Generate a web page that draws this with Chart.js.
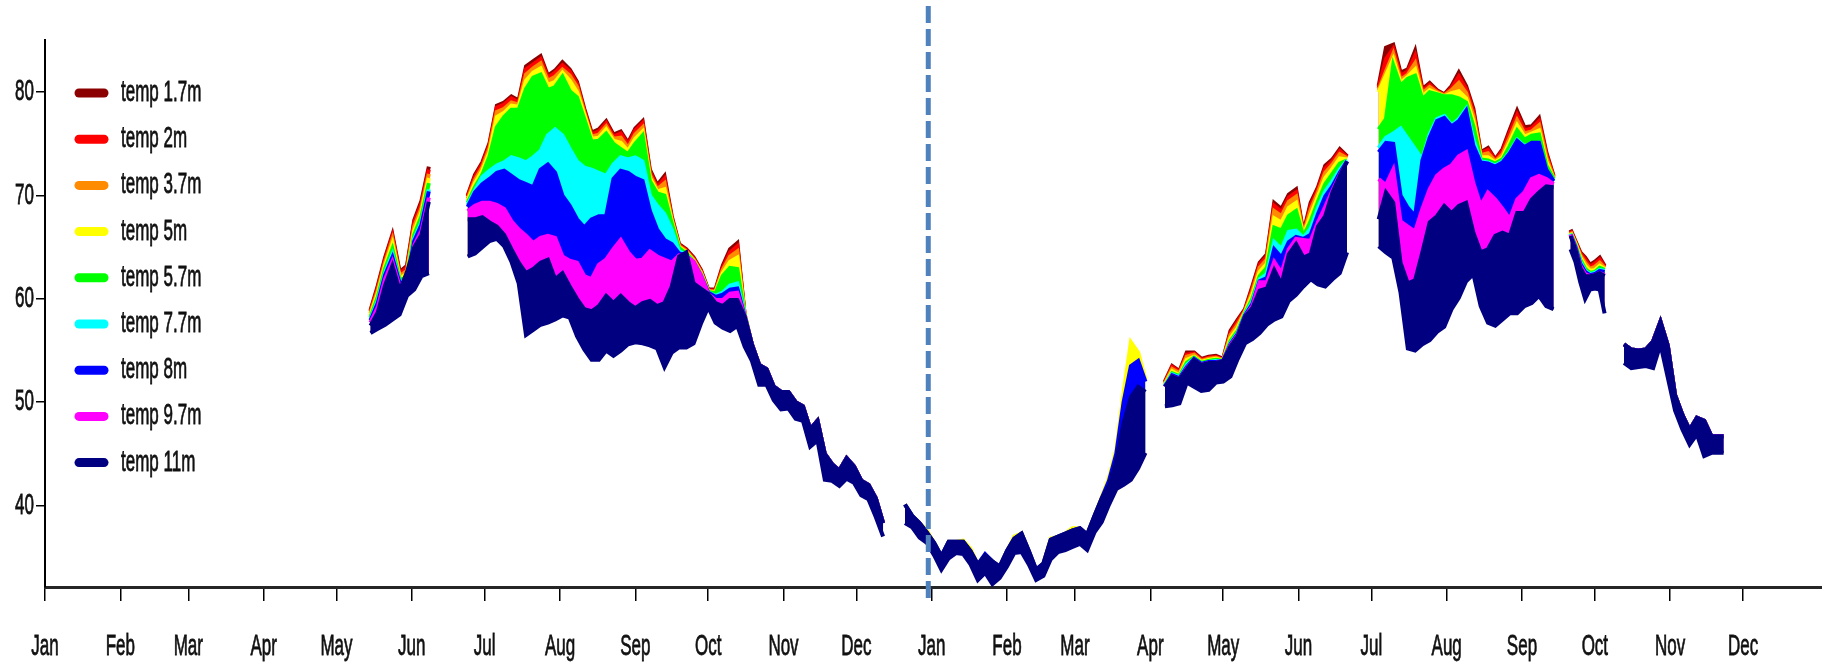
<!DOCTYPE html>
<html>
<head>
<meta charset="utf-8">
<script src="https://cdn.jsdelivr.net/npm/chart.js@4.4.1/dist/chart.umd.min.js"></script>
<style>
  html, body { margin: 0; padding: 0; background: #ffffff; }
  #wrap { position: relative; width: 1822px; height: 665px; }
  canvas { display: block; }
</style>
</head>
<body>
<div id="wrap"><canvas id="chart" width="1822" height="665"></canvas></div>
<script>
// ---- axis labels ----
const monthLabels = ['Jan','Feb','Mar','Apr','May','Jun','Jul','Aug','Sep','Oct','Nov','Dec',
                     'Jan','Feb','Mar','Apr','May','Jun','Jul','Aug','Sep','Oct','Nov','Dec'];
const monthStartDays = [0,31,59,90,120,151,181,212,243,273,304,334,
                        365,396,424,455,485,516,546,577,608,638,669,699];
const yTickValues = [40, 50, 60, 70, 80];
const yearBoundaryDay = 363.6;

const depthLabels = ['temp 1.7m','temp 2m','temp 3.7m','temp 5m','temp 5.7m','temp 7.7m','temp 8m','temp 9.7m','temp 11m'];
const depthColors = ['#8B0000','#FF0000','#FF8C00','#FFFF00','#00FF00','#00FFFF','#0000FF','#FF00FF','#000080'];

// ---- sampling days (day 0 = 1 Jan of the first year) ----
const daysA = [134,137,140,143,146,149,152,155,158];
const daysB = [174,177,180,183,186,189,192,195,198,201,204,207,210,213,216,219,222,225,228,231,234,237,240,243,246,249,252,255,258,261,264,267,270,273,276,279,282,285,288];
const daysFall = [291,294,297,300,303,306,309,312,315,318,321,324,327,330,333,336,339,342,345];
const daysWinter = [354,357,360,363,366,369,372,375,378,381,384,387,390,393,396,399,402,405,408,411,414,417,420,423,426,429,432,435,438,441,444,447,450,453];
const daysD = [461,464,467,470,473,476,479,482,485,488,491,494,497,500,503,506,509,512,515,518,521,524,527,530,533,536];
const daysE = [549,552,555,558,561,564,567,570,573,576,579,582,585,588,591,594,597,600,603,606,609,612,615,618,621];
const daysF = [628,630,632,634,636,638,640,642];
const daysLate = [650,653,656,659,662,665,668,671,674,677,680,683,686,689,691];

// ---- stratified periods, one array per depth: [A, B, D, E, F] (deg F) ----
const temp1_7m = [
  [58.9,61.3,64.0,66.2,62.6,63.2,67.6,69.5,72.8],
  [70.0,72.0,73.2,75.1,78.7,79.0,79.6,79.2,82.5,83.0,83.5,81.6,82.1,82.9,82.2,81.0,78.4,76.1,76.4,77.2,75.9,76.2,75.1,76.5,77.2,72.5,71.0,71.9,68.0,65.3,64.8,64.0,62.8,60.9,60.9,63.2,64.8,65.4,58.5],
  [52.0,53.5,53.0,54.8,54.8,54.2,54.4,54.5,54.2,56.9,58.0,59.0,61.2,63.5,64.3,69.3,68.7,70.1,70.6,66.4,69.3,70.8,72.9,73.5,74.5,73.8],
  [80.6,84.3,84.6,81.9,82.2,84.0,80.3,80.9,80.2,79.8,80.6,81.9,80.6,78.4,74.2,74.6,73.5,74.5,76.4,78.2,76.6,76.7,77.5,74.2,71.9],
  [66.7,65.6,64.5,64.0,63.3,63.6,64.0,63.2]
];
const temp2m = [
  [58.8,61.1,63.8,66.0,62.4,63.0,67.4,69.2,72.5],
  [69.9,71.8,73.0,74.9,78.5,78.8,79.4,79.0,82.2,82.7,83.2,81.4,81.9,82.6,82.0,80.8,78.2,75.9,76.2,77.0,75.7,76.0,74.9,76.3,77.0,72.3,70.8,71.6,67.8,65.2,64.7,63.9,62.7,60.8,60.8,63.0,64.5,65.1,58.5],
  [51.9,53.4,52.9,54.6,54.7,54.1,54.3,54.4,54.1,56.7,57.8,58.9,61.0,63.3,64.1,69.0,68.4,69.8,70.3,66.3,69.0,70.6,72.6,73.3,74.3,73.7],
  [80.4,83.2,84.2,81.6,82.0,83.5,80.1,80.7,80.1,79.7,80.4,81.5,80.3,78.1,74.1,74.4,73.4,74.3,76.1,77.8,76.3,76.5,77.2,74.0,71.8],
  [66.6,65.5,64.4,63.8,63.1,63.4,63.8,63.1]
];
const temp3_7m = [
  [58.6,60.8,63.5,65.7,62.2,62.7,67.0,68.8,72.1],
  [69.7,71.5,72.7,74.6,78.1,78.4,79.0,78.8,81.7,82.3,82.8,81.1,81.5,82.2,81.6,80.5,78.0,75.7,75.9,76.7,75.5,75.6,74.6,75.9,76.6,72.0,70.6,71.2,67.7,65.1,64.6,63.8,62.6,60.8,60.7,62.8,64.1,64.6,58.4],
  [51.8,53.2,52.8,54.4,54.6,54.0,54.2,54.3,54.1,56.5,57.5,58.8,60.7,63.0,63.8,68.5,68.0,69.4,69.9,66.2,68.6,70.3,72.2,73.0,74.0,73.6],
  [80.2,82.0,83.7,81.2,81.7,82.8,79.9,80.5,80.0,79.7,80.2,80.9,79.9,77.7,73.9,74.1,73.3,74.0,75.6,77.3,76.0,76.2,76.8,73.7,71.7],
  [66.5,65.4,64.2,63.5,62.9,63.1,63.5,63.0]
];
const temp5m = [
  [58.4,60.5,63.2,65.3,62.0,62.4,66.6,68.4,71.7],
  [69.5,71.2,72.4,74.2,77.6,78.0,78.7,78.6,81.1,81.9,82.3,80.7,81.0,81.9,81.1,80.0,77.8,75.5,75.6,76.4,75.3,75.1,74.3,75.5,76.2,71.7,70.4,70.6,67.5,65.0,64.5,63.7,62.5,60.7,60.6,62.5,63.6,64.0,58.4],
  [51.7,53.0,52.6,54.1,54.4,53.9,54.1,54.2,54.0,56.2,57.2,58.7,60.4,62.6,63.4,67.8,67.4,68.8,69.3,66.1,68.1,69.9,71.7,72.6,73.6,73.5],
  [80.0,81.6,83.2,80.9,81.5,82.2,79.6,80.2,79.9,79.6,79.9,80.1,79.4,77.2,73.7,73.7,73.2,73.7,75.2,76.8,75.7,76.0,76.3,73.3,71.6],
  [66.4,65.3,64.0,63.2,62.7,62.8,63.2,62.9]
];
const temp5_7m = [
  [58.2,60.2,62.9,64.8,61.8,62.1,66.2,68.0,71.2],
  [69.3,70.8,72.0,73.8,76.6,77.6,78.3,78.3,80.3,81.4,81.7,80.2,80.5,81.5,80.1,79.5,77.4,75.2,75.3,76.0,75.0,74.5,74.0,75.0,75.8,71.4,70.2,70.0,67.3,64.9,64.4,63.6,62.4,60.7,60.5,62.2,63.0,62.9,58.4],
  [51.6,52.8,52.5,53.8,54.3,53.8,54.0,54.1,54.0,55.9,56.9,58.6,60.0,62.2,63.0,66.9,66.6,68.0,68.5,66.0,67.5,69.4,71.1,72.1,73.1,73.4],
  [76.4,77.4,82.6,80.6,81.3,81.6,79.3,80.0,79.8,79.6,79.6,79.4,79.0,76.7,73.5,73.4,73.1,73.5,74.8,76.3,75.4,75.8,75.9,72.9,71.6],
  [66.3,65.2,63.8,62.9,62.5,62.6,63.0,62.8]
];
const temp7_7m = [
  [58.0,59.8,62.5,64.3,61.6,61.8,65.8,67.4,70.6],
  [69.1,70.5,71.8,72.4,72.9,73.2,73.7,73.5,73.2,73.7,74.3,75.8,76.4,75.8,74.5,73.3,72.7,72.5,72.2,71.9,73.0,73.7,73.5,73.7,73.3,70.0,69.0,68.2,66.7,64.6,64.3,63.4,62.3,60.6,60.3,60.6,61.3,61.5,58.4],
  [51.6,52.7,52.4,53.6,54.2,53.7,53.9,54.0,54.0,55.7,56.7,58.5,59.7,61.9,62.4,65.5,64.8,66.5,66.6,65.9,66.8,68.8,70.4,71.4,72.5,73.4],
  [74.6,75.6,76.0,76.5,75.5,74.5,73.5,75.9,77.4,77.7,76.8,77.4,78.4,75.4,73.3,73.2,72.9,73.3,74.2,75.4,74.8,75.0,75.1,72.5,71.4],
  [66.3,65.1,63.6,62.7,62.4,62.5,62.8,62.7]
];
const temp8m = [
  [57.9,59.6,62.3,64.0,61.5,61.6,65.6,67.2,70.4],
  [68.9,70.3,71.1,71.6,72.2,72.4,71.9,71.4,71.1,70.8,72.5,73.0,72.2,70.0,69.0,67.7,66.9,67.7,68.0,68.0,71.6,72.4,72.2,71.7,71.4,68.5,66.7,65.7,65.3,64.4,64.2,63.3,62.2,60.6,60.2,60.4,60.9,61.0,58.3],
  [51.5,52.6,52.3,53.4,54.2,53.7,53.9,53.9,54.0,55.6,56.6,58.4,59.5,61.7,62.0,64.8,64.0,65.5,66.0,65.8,66.2,68.2,69.9,70.9,72.2,73.3],
  [74.2,75.1,75.0,70.0,68.8,68.0,73.4,75.6,77.2,77.5,76.7,77.2,78.2,74.8,73.2,73.1,72.8,73.2,74.1,75.3,74.7,75.1,75.1,72.5,71.4],
  [66.2,65.0,63.4,62.6,62.3,62.4,62.7,62.6]
];
const temp9_7m = [
  [57.7,59.2,61.9,63.6,61.2,61.3,65.2,66.6,69.8],
  [68.5,69.0,69.3,69.3,69.1,68.7,67.5,66.7,66.1,65.4,65.9,66.1,65.9,64.1,63.7,63.5,62.2,61.9,63.3,63.8,64.8,65.7,64.5,63.7,63.8,64.6,64.1,63.8,63.5,64.2,64.1,63.6,62.3,60.5,59.9,59.9,60.5,60.6,58.3],
  [51.5,52.5,52.2,53.3,54.1,53.6,53.8,53.8,54.0,55.5,56.5,58.3,59.3,61.6,61.6,63.6,62.5,64.8,65.8,65.7,65.6,67.4,68.9,70.5,72.0,73.3],
  [71.6,71.0,72.5,67.5,67.0,66.5,68.7,70.6,71.9,72.5,72.9,73.8,74.2,71.2,69.0,70.3,69.6,68.7,67.7,69.6,70.3,71.6,71.9,71.6,71.1],
  [66.2,64.9,63.2,62.4,62.2,62.3,62.5,62.3]
];
const temp11m = [
  [57.4,58.7,61.3,63.2,60.8,62.6,65.0,66.2,69.4],
  [67.7,67.7,67.9,67.4,67.0,66.2,64.8,63.5,62.5,62.9,63.5,63.8,61.9,62.5,61.2,60.0,59.0,58.8,59.3,60.3,59.6,60.3,59.6,59.1,59.6,59.8,59.3,59.6,61.2,64.1,64.5,61.5,61.0,60.5,59.6,59.3,59.9,59.9,58.3],
  [51.5,52.5,52.2,53.2,54.1,53.6,53.8,53.8,54.0,55.4,56.4,58.3,59.1,60.8,61.0,62.8,61.4,64.3,65.3,64.0,64.3,67.0,68.0,70.3,71.9,73.3],
  [67.7,70.3,69.3,63.5,61.5,61.8,64.5,67.4,68.0,69.0,68.3,69.0,69.3,66.4,64.5,64.8,66.1,66.4,66.1,68.3,68.3,69.6,70.3,70.9,70.8],
  [66.1,64.8,63.0,62.2,62.2,62.3,62.5,62.2]
];
// lowest reading at 11 m in each period
const temp11mLow = [
  [56.7,57.1,57.5,58.0,58.5,60.3,60.9,62.2,62.5],
  [64.1,64.4,65.0,65.6,65.8,65.1,63.6,61.5,56.5,57.0,57.5,57.7,58.0,58.4,58.2,56.4,55.1,54.1,54.1,55.0,54.5,55.0,55.6,55.8,55.7,55.5,55.2,53.4,54.8,55.3,55.3,55.7,57.6,59.2,57.7,57.2,56.9,57.4,55.4],
  [49.6,49.7,49.9,51.9,51.5,51.1,51.2,51.9,52.0,52.5,54.2,55.7,56.1,56.7,57.5,58.0,58.3,59.8,60.4,61.2,61.9,61.4,61.2,61.9,62.5,64.5],
  [65.1,64.5,64.0,60.6,55.2,55.0,55.6,56.0,56.8,57.3,59.0,60.1,61.7,62.4,59.3,57.7,57.4,58.0,58.6,58.6,59.3,59.6,60.3,59.3,59.0],
  [64.8,63.6,61.6,60.0,60.9,61.0,60.9,58.6]
];

// ---- mixed periods (whole column at one temperature) ----
const fallHi = [55.6,53.6,53.2,51.5,51.0,51.0,50.0,49.6,47.4,48.2,45.0,44.0,43.4,44.6,43.8,42.4,42.0,40.7,38.3];
const fallLo = [54.0,51.7,51.7,50.2,49.3,49.4,48.4,48.2,45.7,46.3,42.5,42.4,41.9,42.6,42.2,41.0,40.6,38.9,37.0];
const lateHi = [55.6,55.1,55.0,55.1,55.9,57.8,55.5,50.7,48.8,47.3,48.5,48.2,46.7,46.7,46.7];
const lateLo = [53.8,53.3,53.4,53.5,53.3,55.6,52.4,49.2,47.4,45.9,46.9,44.8,45.1,45.1,45.1];

// ---- winter: only 5 m, 8 m and 11 m loggers ----
const winter5m  = [40.1,39.0,38.3,37.6,36.4,35.1,36.5,36.5,36.6,35.8,34.3,35.2,34.6,34.1,35.6,37.0,37.3,35.6,33.8,34.4,36.8,37.0,37.3,37.8,37.8,37.2,39.0,40.8,42.7,45.4,50.9,55.8,54.8,52.2];
const winter8m  = [40.1,39.0,38.3,37.4,36.4,35.1,36.5,36.5,36.5,35.6,34.3,35.3,34.6,34.1,35.6,36.8,37.3,35.6,33.8,34.4,36.7,37.0,37.3,37.6,37.8,37.2,39.0,40.7,42.4,45.0,50.0,53.5,54.0,52.0];
const winter11m = [40.1,39.0,38.3,37.4,36.4,35.1,36.5,36.5,36.5,35.6,34.3,35.2,34.6,34.1,35.6,36.8,37.3,35.6,33.8,34.4,36.7,37.0,37.3,37.6,37.8,37.2,39.0,40.7,42.0,44.4,48.0,50.5,51.5,51.0];
const winter11mLow = [38.3,37.9,36.9,36.4,35.2,33.8,34.9,35.4,35.3,34.3,32.8,33.5,32.4,33.0,34.1,35.4,35.5,34.3,32.8,33.2,34.8,35.5,35.7,36.0,36.3,35.7,37.4,38.4,40.1,41.6,42.0,42.5,43.6,45.1];

const depthSeries = [temp1_7m, temp2m, temp3_7m, temp5m, temp5_7m, temp7_7m, temp8m, temp9_7m, temp11m];
const winterSeries = [null, null, null, winter5m, null, null, winter8m, null, winter11m];

// join the periods into one {x, y} list with breaks between deployments
function assemble(strat, winter, fall, late) {
  const pts = [];
  const add = (days, vals) => days.forEach((d, i) => pts.push({ x: d, y: vals[i] }));
  const gap = d => pts.push({ x: d, y: null });
  add(daysA, strat[0]);  gap(daysA[daysA.length - 1] + 1);
  add(daysB, strat[1]);  add(daysFall, fall); gap(daysFall[daysFall.length - 1] + 1);
  if (winter) { add(daysWinter, winter); }
  gap(daysWinter[daysWinter.length - 1] + 1);
  add(daysD, strat[2]);  gap(daysD[daysD.length - 1] + 1);
  add(daysE, strat[3]);  gap(daysE[daysE.length - 1] + 1);
  add(daysF, strat[4]);  gap(daysF[daysF.length - 1] + 1);
  add(daysLate, late);
  return pts;
}

const LOW_INDEX = depthSeries.length;
const datasets = depthSeries.map((s, i) => ({
  label: depthLabels[i],
  data: assemble(s, winterSeries[i], fallHi, lateHi),
  borderColor: depthColors[i],
  backgroundColor: depthColors[i],
  borderWidth: 4,
  pointRadius: 0,
  tension: 0,
  fill: LOW_INDEX,
  order: depthSeries.length - i   // shallow sensors drawn first, 11 m on top
}));
datasets.push({
  label: 'temp 11m low',
  data: assemble(temp11mLow, winter11mLow, fallLo, lateLo),
  borderColor: depthColors[8],
  backgroundColor: depthColors[8],
  borderWidth: 4,
  pointRadius: 0,
  tension: 0,
  fill: false,
  order: 0
});

// condensed, tall lettering
const FONT = '"Liberation Sans", Arial, Helvetica, sans-serif';
const FONT_SIZE = 17;
const TEXT_STRETCH = 1.7;
const TEXT_COLOR = '#111';

function stretchedText(ctx, text, x, y, align) {
  ctx.save();
  ctx.translate(x, y);
  ctx.scale(1, TEXT_STRETCH);
  ctx.font = FONT_SIZE + 'px ' + FONT;
  ctx.fillStyle = TEXT_COLOR;
  ctx.strokeStyle = TEXT_COLOR;
  ctx.lineWidth = 0.45;
  ctx.textAlign = align;
  ctx.textBaseline = 'middle';
  ctx.fillText(text, 0, 0);
  ctx.strokeText(text, 0, 0);
  ctx.restore();
}

// tick labels placed at the scales' own tick positions
const axisLabels = {
  id: 'axisLabels',
  afterDraw(chart) {
    const ctx = chart.ctx;
    const xs = chart.scales.x, ys = chart.scales.y;
    monthStartDays.forEach((d, i) => {
      stretchedText(ctx, monthLabels[i], xs.getPixelForValue(d), 647, 'center');
    });
    yTickValues.forEach(v => {
      stretchedText(ctx, String(v), 34, ys.getPixelForValue(v), 'right');
    });
  }
};

// legend drawn inside the plot, top-left
const depthLegend = {
  id: 'depthLegend',
  afterDraw(chart) {
    const ctx = chart.ctx;
    ctx.save();
    ctx.lineCap = 'round';
    ctx.lineWidth = 9;
    depthLabels.forEach((lab, i) => {
      const y = 93 + i * 46.2;
      ctx.strokeStyle = depthColors[i];
      ctx.beginPath(); ctx.moveTo(79, y); ctx.lineTo(104, y); ctx.stroke();
      stretchedText(ctx, lab, 121, y, 'left');
    });
    ctx.restore();
  }
};

// dashed divider at the turn of the year
const yearDivider = {
  id: 'yearDivider',
  afterDraw(chart) {
    const ctx = chart.ctx;
    const x = chart.scales.x.getPixelForValue(yearBoundaryDay);
    ctx.save();
    ctx.strokeStyle = '#4F81BD';
    ctx.lineWidth = 5;
    ctx.setLineDash([17, 6]);
    ctx.beginPath(); ctx.moveTo(x, 6); ctx.lineTo(x, 598); ctx.stroke();
    ctx.restore();
  }
};

new Chart(document.getElementById('chart'), {
  type: 'line',
  data: { datasets },
  plugins: [axisLabels, depthLegend, yearDivider],
  options: {
    responsive: false,
    animation: false,
    events: [],
    layout: { padding: { top: 40, left: 0, right: 0, bottom: 0 } },
    plugins: { legend: { display: false }, tooltip: { enabled: false } },
    scales: {
      x: {
        type: 'linear',
        min: 0,
        max: 731.5,
        afterBuildTicks: s => { s.ticks = monthStartDays.map(v => ({ value: v })); },
        afterFit: s => { s.height = 78; },
        border: { display: true, color: '#262626', width: 3 },
        grid: { display: true, drawOnChartArea: false, drawTicks: true, tickLength: 14, color: '#000', lineWidth: 1.5 },
        ticks: { display: false, autoSkip: false, maxRotation: 0 }
      },
      y: {
        type: 'linear',
        min: 32.12,
        max: 85.05,
        afterBuildTicks: s => { s.ticks = yTickValues.map(v => ({ value: v })); },
        afterFit: s => { s.width = 45; },
        border: { display: true, color: '#000', width: 2 },
        grid: { display: true, drawOnChartArea: false, drawTicks: true, tickLength: 9, color: '#000', lineWidth: 1.5 },
        ticks: { display: false }
      }
    }
  }
});
</script>
</body>
</html>
